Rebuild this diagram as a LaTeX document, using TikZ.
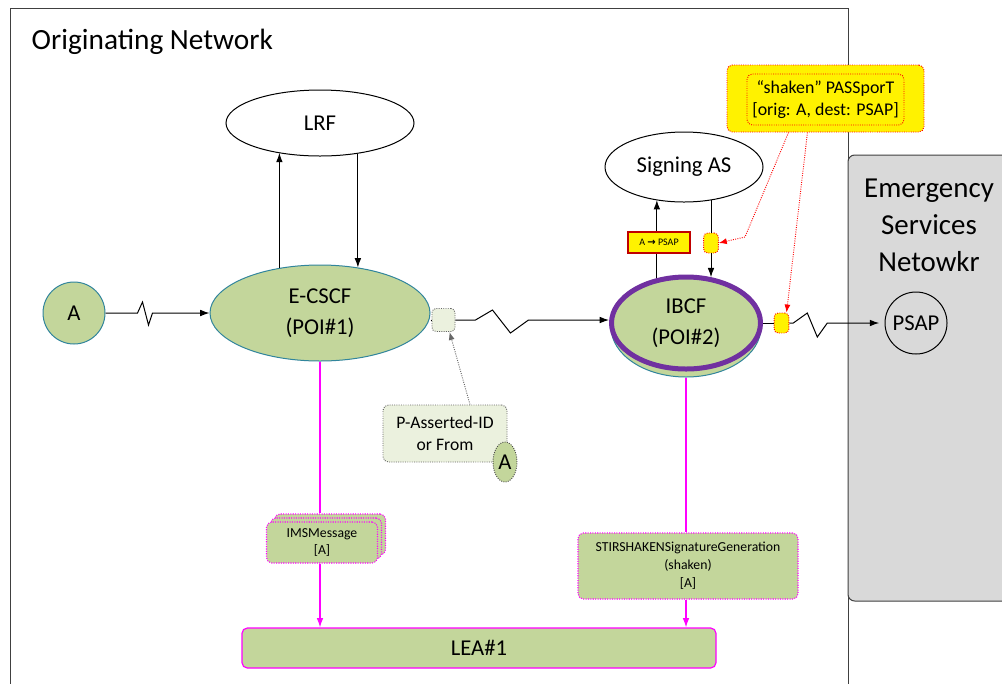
\documentclass[tikz,border=0pt]{standalone}
\usepackage{fontspec}
\setmainfont{Carlito}
\newfontfamily\dejavu{DejaVu Sans}
\usetikzlibrary{arrows.meta,shapes.geometric,calc}
\definecolor{lgreen}{HTML}{C3D69B}
\definecolor{pgreen}{HTML}{EBF1DE}
\definecolor{tealb}{HTML}{31859C}
\definecolor{purp}{HTML}{7030A0}
\definecolor{esgray}{HTML}{D9D9D9}
\definecolor{magen}{HTML}{FF00FF}
\definecolor{dred}{HTML}{C00000}
\begin{document}
\begin{tikzpicture}[x=0.75pt,y=-0.75pt,
  conn/.style={draw=black, line width=0.75pt, -{Latex[length=7pt,width=5pt]}},
  plain/.style={draw=black, line width=0.75pt},
  magconn/.style={draw=magen, line width=0.9pt, -{Latex[length=7pt,width=5pt]}},
  magline/.style={draw=magen, line width=0.9pt},
  redarrow/.style={draw=red, densely dotted, line width=0.7pt, -{Latex[length=6pt,width=4.5pt]}},
  grayarrow/.style={draw=black!60, densely dotted, line width=0.7pt, -{Latex[length=6pt,width=4.5pt]}},
  ellnode/.style={ellipse, inner sep=0pt, draw=black, line width=0.75pt, font=\fontsize{17pt}{23pt}\selectfont, align=center},
  greenell/.style={ellipse, inner sep=0pt, fill=lgreen, draw=tealb, line width=0.75pt, font=\fontsize{17pt}{23pt}\selectfont, align=center},
  magbox/.style={rectangle, rounded corners=4pt, fill=lgreen, draw=magen, densely dotted, line width=0.8pt, inner sep=0pt, align=center, font=\fontsize{10.3pt}{13pt}\selectfont},
  ybox/.style={rectangle, rounded corners=3pt, fill=yellow, draw=red, densely dotted, line width=0.7pt, inner sep=0pt, minimum width=11pt, minimum height=15pt}
]
\useasboundingbox (0,0) rectangle (1002,683);
\fill[white] (0,0) rectangle (1002,683);

% frames
\draw[black!75, line width=0.75pt] (10,8) rectangle (848,700);
\draw[black!75, fill=esgray, line width=0.75pt, rounded corners=5pt] (848,155) rectangle (1030,601);
\node[anchor=west, font=\fontsize{22pt}{26pt}\selectfont] (title) at (27,42) {Originating Network};
\node[align=center, font=\fontsize{21.7pt}{27.75pt}\selectfont] (esn) at (929,225) {Emergency\\Services\\Netowkr};

% main nodes
\node[ellnode, minimum width=141pt, minimum height=49.5pt] (lrf) at (320,123) {LRF};
\node[greenell, minimum width=46.5pt, minimum height=46.5pt] (a) at (74,313) {A};
\node[greenell, minimum width=165pt, minimum height=72pt] (ecscf) at (320,313) {E-CSCF\\(POI\#1)};
\node[ellnode, minimum width=118.5pt, minimum height=52.5pt] (sas) at (684,167) {Signing AS};
\node[greenell, minimum width=112.5pt, minimum height=75pt] (ibcfbg) at (686,327) {};
\node[ellipse, inner sep=0pt, fill=lgreen, draw=purp, line width=3.75pt, minimum width=111.75pt, minimum height=69pt, font=\fontsize{17pt}{23pt}\selectfont, align=center] (ibcf) at (686,323) {IBCF\\(POI\#2)};
\node[circle, draw=black, line width=0.75pt, inner sep=0pt, minimum size=46.5pt, font=\fontsize{17pt}{23pt}\selectfont] (psap) at (916,323) {PSAP};

\node[rectangle, rounded corners=3pt, fill=pgreen, draw=black!60, densely dotted, line width=0.7pt, minimum width=17.25pt, minimum height=17.25pt, inner sep=0pt] (box1) at (443.5,320) {};
\node[rectangle, rounded corners=4pt, fill=pgreen, draw=black!60, densely dotted, line width=0.7pt, minimum width=93pt, minimum height=42.75pt, inner sep=0pt, align=center, font=\fontsize{13.2pt}{16.5pt}\selectfont] (paid) at (445,433.5) {P-Asserted-ID\\or From};
\node[ellipse, fill=lgreen, draw=black!70, densely dotted, line width=0.7pt, minimum width=18pt, minimum height=30pt, inner sep=0pt, font=\fontsize{17pt}{20pt}\selectfont] (pa) at (505,462) {A};

% PASSporT
\node[rectangle, rounded corners=4pt, fill=yellow, draw=red, densely dotted, line width=0.7pt, minimum width=147.75pt, minimum height=50.25pt, inner sep=0pt] (pass) at (825.5,98.5) {};
\node[rectangle, rounded corners=4pt, draw=red, densely dotted, line width=0.7pt, minimum width=117.75pt, minimum height=38.25pt, inner sep=0pt, align=center, font=\fontsize{13.4pt}{16.5pt}\selectfont] (passin) at (825.5,99.5) {“shaken” PASSporT\\{}[orig: A, dest: PSAP]};

\node[ybox] (yb1) at (711,243) {};
\node[ybox] (yb2) at (781.5,323) {};

% magenta boxes
\node[magbox, minimum width=83.25pt, minimum height=30.75pt] (ims3) at (330,534.5) {};
\node[magbox, minimum width=83.25pt, minimum height=30.75pt] (ims2) at (326,538.5) {};
\node[magbox, minimum width=83.25pt, minimum height=30.75pt] (ims) at (322,542.5) {IMSMessage\\{}[A]};
\node[magbox, minimum width=165pt, minimum height=49.5pt, font=\fontsize{10.3pt}{13.5pt}\selectfont] (stir) at (688,566) {STIRSHAKENSignatureGeneration\\(shaken)\\{}[A]};
\node[rectangle, rounded corners=4pt, fill=lgreen, draw=magen, line width=0.9pt, minimum width=355.5pt, minimum height=30pt, inner sep=0pt, font=\fontsize{17pt}{20pt}\selectfont] (lea) at (479,648) {LEA\#1};

% connectors
\draw[conn] (a.east) -- ++(32,0) -- ++(5,-11) -- ++(6,23) -- ++(4,-12) -- (ecscf.west);
\draw[conn] (ecscf.132.7) -- (ecscf.132.7 |- lrf.215.9);
\draw[conn] (lrf.-39.3) -- (lrf.-39.3 |- ecscf.50.7);
\draw[plain] (box1.west -| ecscf.east) -- (box1.west);
\draw[conn] (box1.east) -- ++(20,0) -- ++(17,-10) -- ++(18,23) -- ++(18,-13) -- (ibcf.west |- box1.east);
\draw[grayarrow] ($(paid.north)+(25,0)$) -- ($(box1.south)+(6,0)$);

\draw[conn] (ibcf.123.9) -- (ibcf.123.9 |- sas.229.4);
\draw[plain] (sas.-50.6 -| yb1.north) -- (yb1.north);
\draw[conn] (yb1.south) -- (yb1.south |- ibcf.61.4);
\node[rectangle, fill=yellow, draw=dred, line width=0.8pt, minimum width=46.5pt, minimum height=15.75pt, inner sep=0pt, font=\fontsize{7.5pt}{9pt}\selectfont] (apsap) at (659,242.5) {A {\dejavu\bfseries →} PSAP};

\draw[plain] (ibcf.east) -- (yb2.west);
\draw[conn, shorten >=4pt] (yb2.east) -- ++(4,0) -- ++(14,-10) -- ++(10,24) -- ++(10,-14) -- (psap.west);

\draw[redarrow] ($(pass.south)+(-37,0)$) -- (745,237) -- (yb1.east);
\draw[redarrow] ($(pass.south)+(-18,0)$) -- ($(yb2.north)+(5,0)$);

% magenta connectors
\draw[magline] (ecscf.south) -- (ecscf.south |- ims3.north);
\draw[magconn] (ecscf.south |- ims.south) -- (ecscf.south |- lea.north);
\draw[magline] (ibcfbg.south) -- (ibcfbg.south |- stir.north);
\draw[magconn] (ibcfbg.south |- stir.south) -- (ibcfbg.south |- lea.north);
\end{tikzpicture}
\end{document}
